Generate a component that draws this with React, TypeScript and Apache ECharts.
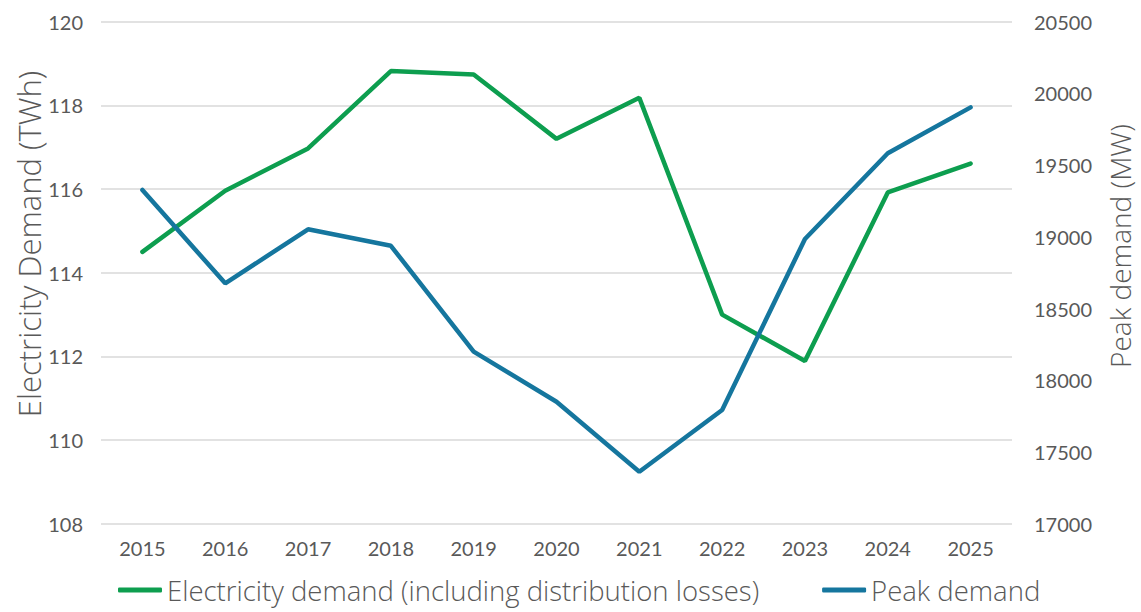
import React, { useEffect, useRef } from "react";
import * as echarts from "echarts";

const years = ["2015", "2016", "2017", "2018", "2019", "2020", "2021", "2022", "2023", "2024", "2025"];
const electricityDemand = [114.5, 115.96, 116.97, 118.82, 118.74, 117.2, 118.18, 113.0, 111.89, 115.92, 116.61];
const peakDemand = [19327, 18676, 19053, 18938, 18200, 17851, 17363, 17793, 18985, 19583, 19903];

const GREEN = "#0d9e4f";
const BLUE = "#15769e";
const TEXT = "#595959";
const NUM_FONT = "Lato";
const TXT_FONT = "'Open Sans'";

export default function App() {
  const ref = useRef<HTMLDivElement>(null);
  useEffect(() => {
    const chart = echarts.init(ref.current!, undefined, { renderer: "svg" });
    chart.setOption({
      animation: false,
      backgroundColor: "#ffffff",
      grid: { left: 101, right: 129, top: 21.7, bottom: 88.2 },
      legend: {
        bottom: 3,
        left: 113,
        itemWidth: 44,
        itemHeight: 5,
        itemGap: 63,
        icon: "roundRect",
        textStyle: { color: TEXT, fontSize: 27.5, fontFamily: TXT_FONT, fontWeight: 300, padding: [0, 0, 0, 0] },
        data: [
          { name: "Electricity demand (including distribution losses)", itemStyle: { color: GREEN } },
          { name: "Peak demand", itemStyle: { color: BLUE } },
        ],
      },
      xAxis: {
        type: "category",
        data: years,
        boundaryGap: true,
        axisLine: { show: false },
        axisTick: { show: false },
        axisLabel: { color: TEXT, fontSize: 20, fontFamily: NUM_FONT, margin: 14 },
      },
      yAxis: [
        {
          type: "value",
          min: 108,
          max: 120,
          interval: 2,
          axisLine: { show: false },
          axisTick: { show: false },
          axisLabel: { color: TEXT, fontSize: 20, fontFamily: NUM_FONT, margin: 18 },
          splitLine: { lineStyle: { color: "#d9d9d9", width: 1.5 } },
        },
        {
          type: "value",
          min: 17000,
          max: 20500,
          interval: 500,
          position: "right",
          axisLine: { show: false },
          axisTick: { show: false },
          axisLabel: {
            color: TEXT,
            fontSize: 20,
            fontFamily: NUM_FONT,
            margin: 22,
            formatter: (v: number) => String(v),
          },
          splitLine: { show: false },
        },
      ],
      graphic: [
        {
          type: "text",
          x: 29,
          y: 244,
          rotation: Math.PI / 2,
          style: {
            text: "Electricity Demand (TWh)",
            fill: TEXT,
            font: `300 31px ${TXT_FONT}`,
            textAlign: "center",
            textVerticalAlign: "middle",
          },
        },
        {
          type: "text",
          x: 1120,
          y: 246,
          rotation: Math.PI / 2,
          style: {
            text: "Peak demand (MW)",
            fill: TEXT,
            font: `300 28px ${TXT_FONT}`,
            textAlign: "center",
            textVerticalAlign: "middle",
          },
        },
      ],
      series: [
        {
          name: "Electricity demand (including distribution losses)",
          type: "line",
          data: electricityDemand,
          yAxisIndex: 0,
          symbol: "none",
          lineStyle: { color: GREEN, width: 4.5, cap: "round" },
          itemStyle: { color: GREEN },
        },
        {
          name: "Peak demand",
          type: "line",
          data: peakDemand,
          yAxisIndex: 1,
          symbol: "none",
          lineStyle: { color: BLUE, width: 4.5, cap: "round" },
          itemStyle: { color: BLUE },
        },
      ],
    });
    return () => chart.dispose();
  }, []);
  return <div ref={ref} style={{ width: 1141, height: 612, position: "absolute", left: 0, top: 0 }} />;
}
